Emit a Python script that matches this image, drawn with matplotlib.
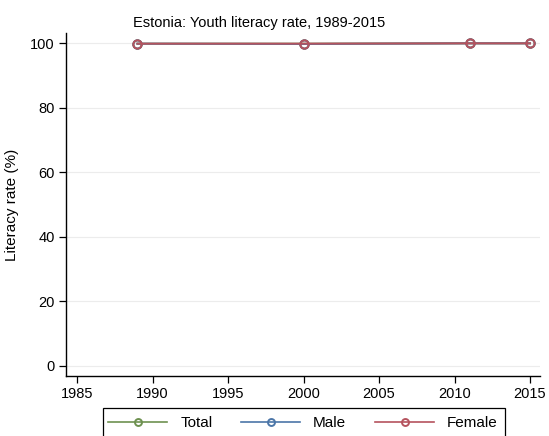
import matplotlib
matplotlib.use('Agg')
import matplotlib.pyplot as plt
from matplotlib.patches import Rectangle

# data
years = [1989, 2000, 2011, 2015]
total = [99.8, 99.8, 99.9, 99.9]
male = [99.8, 99.7, 99.9, 99.9]
female = [99.8, 99.8, 99.9, 99.9]
series_names = ['Total', 'Male', 'Female']
colors = ['#6e9150', '#4c76a8', '#b5535e']

x_ticks = [1985, 1990, 1995, 2000, 2005, 2010, 2015]
y_ticks = [0, 20, 40, 60, 80, 100]

plt.rcParams['font.family'] = ['Liberation Sans', 'DejaVu Sans']

fig = plt.figure(figsize=(5.49, 4.36), dpi=100)
ax = fig.add_axes([66 / 549, 1 - 376 / 436, (540 - 66) / 549, (376 - 33) / 436])

for vals, name, c in zip([total, male, female], series_names, colors):
    ax.plot(years, vals, color=c, lw=1.4, marker='o', ms=6,
            mfc='none', mec=c, mew=1.4, label=name)

ax.set_xlim(1984.27, 2015.66)
ax.set_ylim(-3.1, 103.1)
ax.set_xticks(x_ticks)
ax.set_yticks(y_ticks)
ax.tick_params(direction='out', length=5, width=0.9, color='black',
               labelsize=10.5, pad=3)
ax.grid(axis='y', color='#ececec', lw=0.8)
ax.set_axisbelow(True)
for s in ['top', 'right']:
    ax.spines[s].set_visible(False)
for s in ['left', 'bottom']:
    ax.spines[s].set_linewidth(1.0)
    ax.spines[s].set_color('black')

ax.set_ylabel('Literacy rate (%)', fontsize=11, labelpad=8)
fig.text(259 / 549, 1 - 23 / 436, 'Estonia: Youth literacy rate, 1989-2015',
         ha='center', va='center', fontsize=10.5)

# legend box starts at y=408 px and runs off the bottom edge
top = 1 - 408 / 436
leg = fig.legend(loc='upper left', ncol=3,
                 bbox_to_anchor=(100 / 549, top),
                 fontsize=11, handlelength=3.85,
                 frameon=False, borderaxespad=0,
                 borderpad=0.55, handletextpad=0.85, columnspacing=1.9)
for h in leg.legend_handles:
    h.set_markersize(5)
    h.set_linewidth(1.2)

fig.add_artist(Rectangle((103 / 549, -0.02), 402 / 549, top + 0.02,
                         transform=fig.transFigure, fill=False,
                         edgecolor='black', lw=0.9))

fig.savefig('out.png', dpi=100)
